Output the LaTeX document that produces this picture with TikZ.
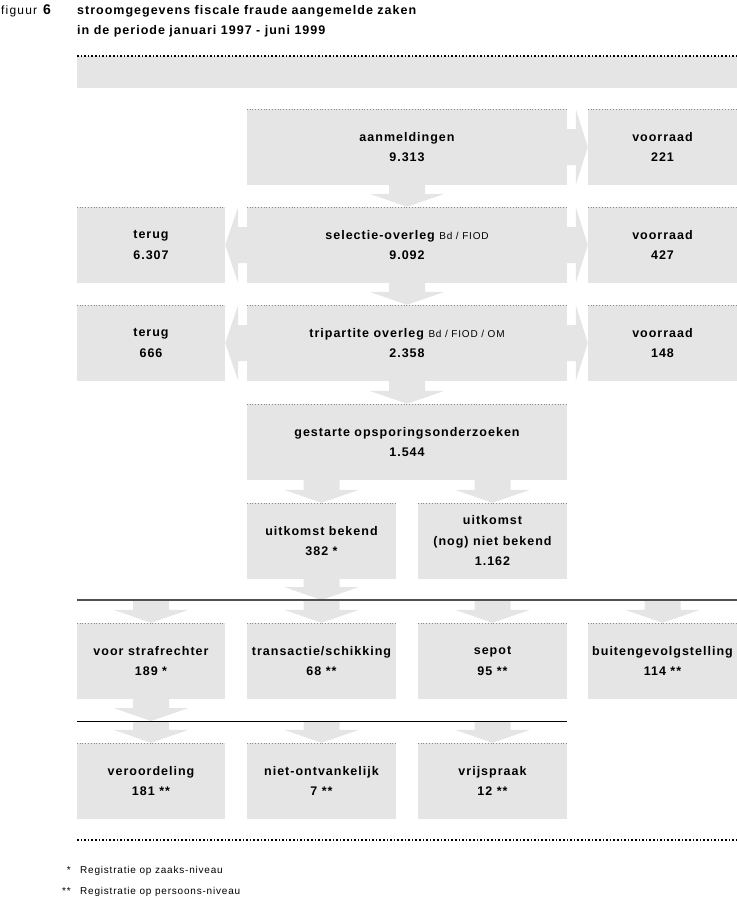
\documentclass[tikz,border=0pt]{standalone}
\usepackage{fontspec}
\setmainfont{Liberation Sans}
\newfontfamily\boxfont[LetterSpace=8]{Liberation Sans}
\newfontfamily\titlefont[LetterSpace=8]{Liberation Sans}
\newfontfamily\notefont[LetterSpace=8]{Liberation Sans}
\newfontfamily\figfont[LetterSpace=10]{Liberation Sans}
\usetikzlibrary{calc}
\definecolor{boxgrey}{HTML}{E5E5E5}
\definecolor{dotgrey}{HTML}{8A8A8A}
\definecolor{linegrey}{HTML}{505050}
\newcommand\dnarrow[2]{%
  \fill[arr] let \p1=#1, \p2=#2 in
  (\x1-18pt,\y1) -- (\x1+18pt,\y1) -- (\x1+18pt,\y2+13pt) -- (\x1+37.5pt,\y2+13pt)
  -- (\x1,\y2) -- (\x1-37.5pt,\y2+13pt) -- (\x1-18pt,\y2+13pt) -- cycle;}
\newcommand\rtarrow[2]{%
  \fill[arr] let \p1=#1, \p2=#2 in
  (\x1,\y1+18pt) -- (\x2-12pt,\y1+18pt) -- (\x2-12pt,\y1+38pt) -- (\x2,\y1)
  -- (\x2-12pt,\y1-38pt) -- (\x2-12pt,\y1-18pt) -- (\x1,\y1-18pt) -- cycle;}
\newcommand\lfarrow[2]{%
  \fill[arr] let \p1=#1, \p2=#2 in
  (\x1,\y1+18pt) -- (\x2+13pt,\y1+18pt) -- (\x2+13pt,\y1+38pt) -- (\x2,\y1)
  -- (\x2+13pt,\y1-38pt) -- (\x2+13pt,\y1-18pt) -- (\x1,\y1-18pt) -- cycle;}
\newcommand\subt[1]{{\notefont\mdseries\fontsize{10}{12}\selectfont #1}}
\tikzset{
  box/.style={fill=boxgrey, minimum height=76pt, inner sep=0pt, align=center,
    font=\boxfont\bfseries\fontsize{12.5}{20.5}\selectfont},
  wA/.style={box, minimum width=148pt},
  wS/.style={box, minimum width=149pt},
  wW/.style={box, minimum width=320pt},
  arr/.style={fill=boxgrey},
  topdots/.style={dotgrey, line width=0.6pt, dash pattern=on 0.8pt off 2pt},
  bigdots/.style={black, line width=1.6pt, dash pattern=on 1.6pt off 2pt},
  title/.style={anchor=base west, inner sep=0pt, font=\titlefont\bfseries\fontsize{12.5}{14}\selectfont},
  note/.style={anchor=base west, inner sep=0pt, font=\notefont\fontsize{10}{12}\selectfont},
}
\begin{document}
\begin{tikzpicture}[x=1pt,y=-1pt]
\useasboundingbox (0,0) rectangle (737,898);
% heading
\node[anchor=base west, inner sep=0pt, font=\figfont\fontsize{12}{12}\selectfont] (fig) at (1,14) {figuur};
\node[anchor=base west, inner sep=0pt, font=\bfseries\fontsize{14}{14}\selectfont] (fignum) at (43,14) {6};
\node[title] (t1) at (77,14) {stroomgegevens fiscale fraude aangemelde zaken};
\node[title] (t2) at (77,34) {in de periode januari 1997 - juni 1999};
% band
\node[fill=boxgrey, minimum width=660pt, minimum height=32pt, inner sep=0pt, anchor=north west] (band) at (77,56) {};
\draw[bigdots] (band.north west) -- (band.north east);
% rows
\node[wW] (aanm) at (407,147) {aanmeldingen\\9.313};
\node[wS] (vr1) at (662.5,147) {voorraad\\221};
\node[wA] (ter1) at (151,245) {terug\\6.307};
\node[wW] (sel) at (407,245) {selectie-overleg \subt{Bd / FIOD}\\9.092};
\node[wS] (vr2) at (662.5,245) {voorraad\\427};
\node[wA] (ter2) at (151,343) {terug\\666};
\node[wW] (tri) at (407,343) {tripartite overleg \subt{Bd / FIOD / OM}\\2.358};
\node[wS] (vr3) at (662.5,343) {voorraad\\148};
\node[wW] (gest) at (407,442) {gestarte opsporingsonderzoeken\\1.544};
\node[wS] (bek) at (321.5,541) {uitkomst bekend\\382 *};
\node[wS] (nbek) at (492.5,541) {uitkomst\\(nog) niet bekend\\1.162};
\node[wA] (strf) at (151,661) {voor strafrechter\\189 *};
\node[wS] (trans) at (321.5,661) {transactie/schikking\\68 **};
\node[wS] (sep) at (492.5,661) {sepot\\95 **};
\node[wS] (buit) at (662.5,661) {buitengevolgstelling\\114 **};
\node[wA] (verd) at (151,781) {veroordeling\\181 **};
\node[wS] (nont) at (321.5,781) {niet-ontvankelijk\\7 **};
\node[wS] (vrij) at (492.5,781) {vrijspraak\\12 **};
\foreach \nm in {aanm,vr1,ter1,sel,vr2,ter2,tri,vr3,gest,bek,nbek,strf,trans,sep,buit,verd,nont,vrij}
  \draw[topdots] (\nm.north west) -- (\nm.north east);
% separator lines
\coordinate (l1a) at (77,600); \coordinate (l1b) at (737,600);
\coordinate (l2a) at (77,721); \coordinate (l2b) at (567,721);
% arrows
\dnarrow{(aanm.south)}{(sel.north)}
\dnarrow{(sel.south)}{(tri.north)}
\dnarrow{(tri.south)}{(gest.north)}
\dnarrow{(gest.south -| bek.north)}{(bek.north)}
\dnarrow{(gest.south -| nbek.north)}{(nbek.north)}
\dnarrow{(bek.south)}{(bek.south |- l1a)}
\foreach \nm in {strf,trans,sep,buit} {\dnarrow{(\nm.north |- l1a)}{(\nm.north)}}
\dnarrow{(strf.south)}{(strf.south |- l2a)}
\foreach \nm in {verd,nont,vrij} {\dnarrow{(\nm.north |- l2a)}{(\nm.north)}}
\rtarrow{(aanm.east)}{(vr1.west)}
\rtarrow{(sel.east)}{(vr2.west)}
\rtarrow{(tri.east)}{(vr3.west)}
\lfarrow{(sel.west)}{(ter1.east)}
\lfarrow{(tri.west)}{(ter2.east)}
\draw[linegrey, line width=1.4pt] (l1a) -- (l1b);
\draw[black, line width=0.9pt] (l2a) -- (l2b);
% bottom
\coordinate (bl) at (77,840); \coordinate (br) at (737,840);
\draw[bigdots] (bl) -- (br);
\node[note, anchor=base east] (s1) at (71,873) {*};
\node[note] (n1) at (80,873) {Registratie op zaaks-niveau};
\node[note, anchor=base east] (s2) at (71,894) {**};
\node[note] (n2) at (80,894) {Registratie op persoons-niveau};
\end{tikzpicture}
\end{document}
